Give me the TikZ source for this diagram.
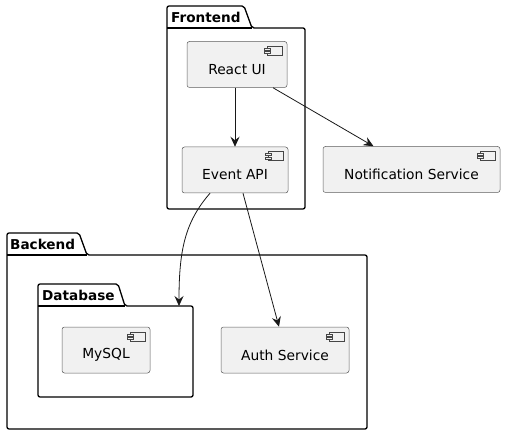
\documentclass[tikz,border=0pt]{standalone}
\usepackage{fontspec}
\setmainfont{DejaVu Sans}
\usetikzlibrary{arrows.meta,calc}
\definecolor{compfill}{HTML}{F1F1F1}
\definecolor{compline}{HTML}{181818}
\tikzset{
  comp/.style={draw=compline!70, line width=0.5pt, fill=compfill, rounded corners=2.5pt,
    rectangle, minimum height=46pt, inner sep=0pt,
    label={[font=\fontsize{13.8}{16}\selectfont, yshift=-5pt]center:#1}},
  pkg/.style={draw=black, line width=1.3pt, rounded corners=2pt, line join=round},
  pkgtitle/.style={font=\bfseries\fontsize{13.6}{16}\selectfont, anchor=west, inner sep=0pt},
  icon/.style={draw=compline!80, line width=0.5pt, fill=compfill},
  conn/.style={draw=compline, line width=0.8pt, -{Stealth[length=10pt,width=9pt,inset=3.5pt]}}
}
\begin{document}
\begin{tikzpicture}[x=1pt,y=-1pt]
\useasboundingbox (0,0) rectangle (505,435);
% packages
\draw[pkg] (167,209) -- (167,6) -- (244,6) -- (252,28) -- (305,28) -- (305,209) -- cycle;
\draw[pkg] (167,28) -- (252,28);
\node[pkgtitle] (frontend) at (171,17) {Frontend};
\draw[pkg] (7,429) -- (7,233) -- (79,233) -- (87,255) -- (367,255) -- (367,429) -- cycle;
\draw[pkg] (7,255) -- (87,255);
\node[pkgtitle] (backend) at (10,244) {Backend};
\draw[pkg] (38,397) -- (38,284) -- (118,284) -- (125,306) -- (193,306) -- (193,397) -- cycle;
\draw[pkg] (38,306) -- (125,306);
\node[pkgtitle] (database) at (42,295) {Database};
\coordinate (dbtop) at (179,306);
% components
\node[comp={React UI}, minimum width=100pt] (react) at (237,64.5) {};
\node[comp={Event API}, minimum width=106pt] (event) at (235,170) {};
\node[comp={Notification Service}, minimum width=177pt] (notif) at (411.5,169.5) {};
\node[comp={MySQL}, minimum width=88pt] (mysql) at (106,350) {};
\node[comp={Auth Service}, minimum width=128pt] (auth) at (285,350) {};
\foreach \n in {react,event,notif,mysql,auth}{
  \draw[icon] ($(\n.north east)+(-20,5)$) rectangle ++(15,9);
  \draw[icon] ($(\n.north east)+(-23,7)$) rectangle ++(6,2);
  \draw[icon] ($(\n.north east)+(-23,10.5)$) rectangle ++(6,2);
}
% connectors
\draw[conn] ($(react.south)+(-2,0)$) -- ($(event.north)+(0,0)$);
\draw[conn] ($(react.south)+(36,0)$) -- ($(notif.north)+(-38,0)$);
\draw[conn] ($(event.south)+(-25,0)$) .. controls (185,222) and (179,250) .. (dbtop);
\draw[conn] ($(event.south)+(8,0)$) -- ($(auth.north)+(-6,0)$);
\end{tikzpicture}
\end{document}
